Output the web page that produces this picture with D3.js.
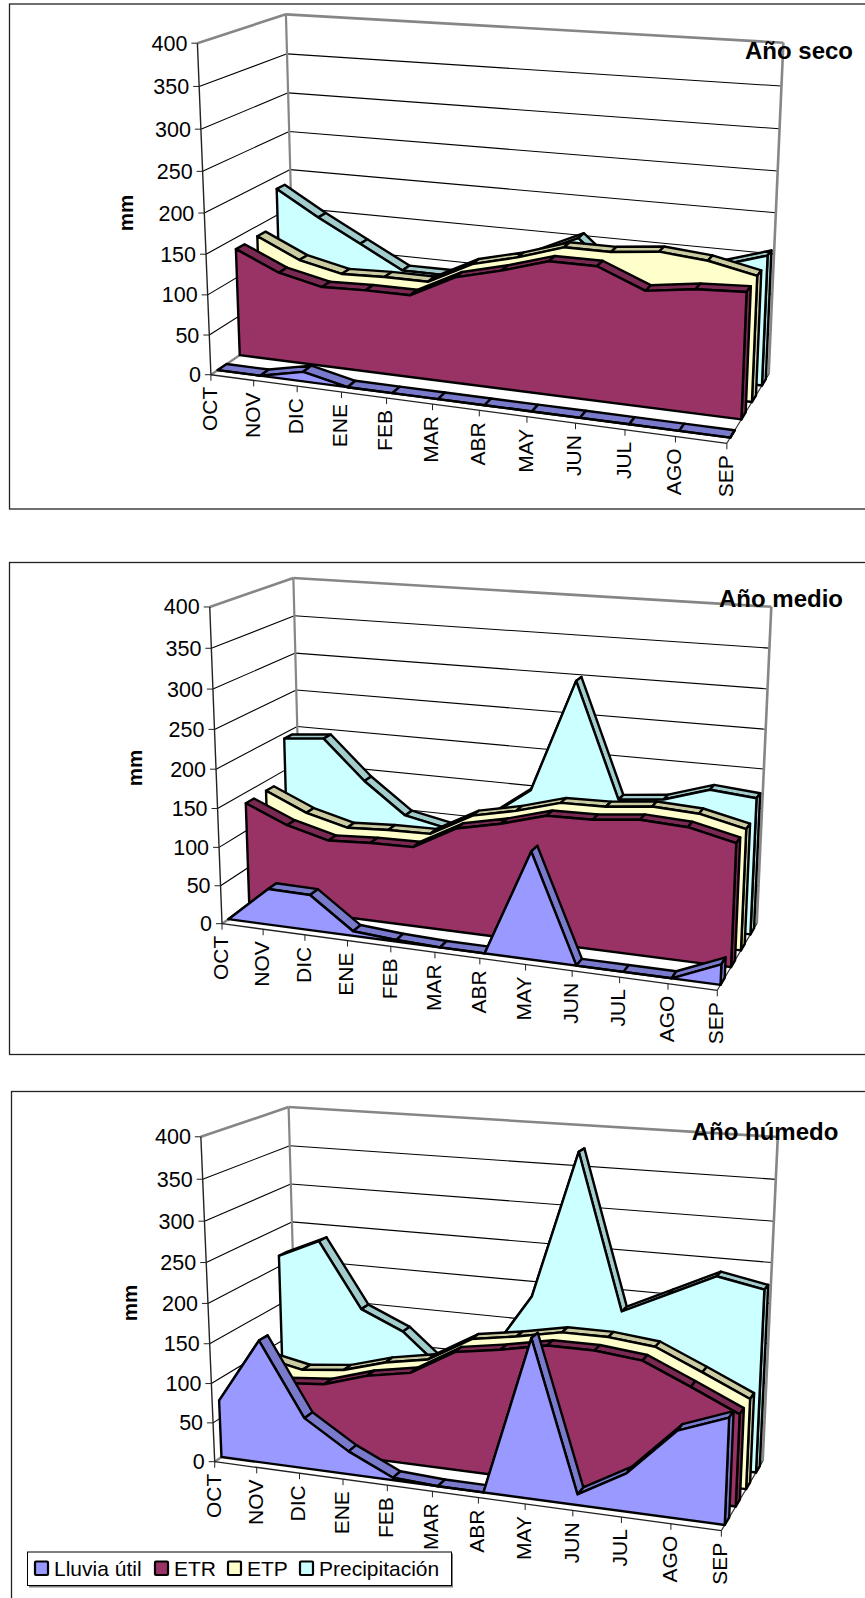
<!DOCTYPE html>
<html>
<head>
<meta charset="utf-8">
<script src="https://cdnjs.cloudflare.com/ajax/libs/d3/7.8.5/d3.min.js"></script>
<style>
  html, body { margin: 0; padding: 0; background: #fff; }
  text { font-family: "Liberation Sans", Arial, sans-serif; fill: #000; }
</style>
</head>
<body>
<div id="chart"></div>
<script>
var months = ["OCT", "NOV", "DIC", "ENE", "FEB", "MAR", "ABR", "MAY", "JUN", "JUL", "AGO", "SEP"];
var yTicks = [0, 50, 100, 150, 200, 250, 300, 350, 400];
var seriesNames = ["Lluvia útil", "ETR", "ETP", "Precipitación"];

var secoLluvia = [0, 0, 12, 0, 0, 0, 0, 0, 0, 0, 0, 0];
var secoEtr = [136, 112, 100, 102, 102, 130, 144, 161, 161, 138, 146, 149];
var secoEtp = [137, 112, 100, 102, 102, 130, 144, 162, 162, 168, 163, 151];
var secoPrec = [184, 152, 123, 94, 94, 85, 132, 158, 110, 120, 141, 159];

var medioLluvia = [0, 47, 46, 6, 2, 0, 0, 134, 0, 0, 0, 25];
var medioEtr = [136, 113, 99, 102, 103, 133, 145, 161, 162, 168, 165, 152];
var medioEtp = [137, 113, 99, 102, 103, 133, 145, 161, 162, 168, 165, 152];
var medioPrec = [193, 198, 146, 105, 94, 115, 156, 301, 155, 161, 179, 174];

var humedoLluvia = [73, 155, 64, 29, 3, 0, 0, 193, 13, 46, 104, 126];
var humedoEtr = [94, 84, 89, 106, 116, 148, 157, 168, 168, 162, 137, 111];
var humedoEtp = [95, 84, 90, 106, 116, 148, 157, 168, 168, 162, 137, 111];
var humedoPrec = [214, 238, 154, 130, 83, 110, 192, 375, 184, 211, 238, 227];

var fills = ["#9999ff", "#993366", "#ffffcc", "#ccffff"];
var tops = ["#7a7acc", "#7a2952", "#cccca3", "#a3cccc"];

var width = 865, height = 1598;

// corners of the 3D box of each panel, measured on the page
var panels = [
  { title: "Año seco", titleX: 799, titleY: 59, mmX: 126, mmY: 213,
    frame: [9.5, 4, 900, 505],
    FL0: [210.7, 375], FL400: [197.5, 43.3], BL0: [294.6, 317.7], BL400: [285.8, 14.3],
    BR0: [768.5, 375], BR400: [783.4, 42.7], FR0: [727.1, 442.7], tick8: [575.4, 423.3],
    values: [secoLluvia, secoEtr, secoEtp, secoPrec] },
  { title: "Año medio", titleX: 781, titleY: 607, mmX: 135, mmY: 768,
    frame: [9.5, 562.5, 900, 492],
    FL0: [222.3, 924], FL400: [209.6, 606.7], BL0: [300.7, 868], BL400: [293.5, 578.3],
    BR0: [756.9, 924], BR400: [771.3, 606.7], FR0: [717.2, 989.3], tick8: [572.1, 971.7],
    values: [medioLluvia, medioEtr, medioEtp, medioPrec] },
  { title: "Año húmedo", titleX: 765, titleY: 1140, mmX: 130, mmY: 1303,
    frame: [11.5, 1091.5, 900, 600],
    FL0: [214.1, 1462.7], FL400: [201.4, 1136.7], BL0: [297.9, 1403.3], BL400: [288, 1107.3],
    BR0: [762.4, 1462.7], BR400: [777.9, 1136.7], FR0: [721.6, 1529], tick8: [572.7, 1511],
    values: [humedoLluvia, humedoEtr, humedoEtp, humedoPrec] }
];

var x = d3.scalePoint().domain(months).range([0, 1]);
var y = d3.scaleLinear().domain([0, 400]).range([0, 1]);
var depth = d3.scaleBand().domain(seriesNames).range([0, 1]).paddingInner(0.6).paddingOuter(0.3);

// solves A m = b
function solve(A, b) {
  var n = b.length;
  for (var i = 0; i < n; i++) {
    var p = i;
    for (var r = i + 1; r < n; r++) if (Math.abs(A[r][i]) > Math.abs(A[p][i])) p = r;
    var t = A[i]; A[i] = A[p]; A[p] = t;
    t = b[i]; b[i] = b[p]; b[p] = t;
    for (r = i + 1; r < n; r++) {
      var f = A[r][i] / A[i][i];
      for (var c = i; c < n; c++) A[r][c] -= f * A[i][c];
      b[r] -= f * b[i];
    }
  }
  var m = new Array(n);
  for (i = n - 1; i >= 0; i--) {
    var s = b[i];
    for (c = i + 1; c < n; c++) s -= A[i][c] * m[c];
    m[i] = s / A[i][i];
  }
  return m;
}

// least squares fit of a perspective projection from the measured corners
function fitProjection(p) {
  var pts = [
    [0, 0, 0, p.FL0], [0, 1, 0, p.FL400], [0, 0, 1, p.BL0], [0, 1, 1, p.BL400],
    [1, 0, 1, p.BR0], [1, 1, 1, p.BR400], [1, 0, 0, p.FR0], [8 / 11, 0, 0, p.tick8]
  ];
  var rows = [], rhs = [];
  pts.forEach(function(q) {
    var X = q[3][0] / 1000, Y = q[3][1] / 1000;
    rows.push([1, q[0], q[1], q[2], 0, 0, 0, 0, -X * q[0], -X * q[1], -X * q[2]]); rhs.push(X);
    rows.push([0, 0, 0, 0, 1, q[0], q[1], q[2], -Y * q[0], -Y * q[1], -Y * q[2]]); rhs.push(Y);
  });
  var ATA = d3.range(11).map(function(i) {
    return d3.range(11).map(function(j) { return d3.sum(rows, function(r) { return r[i] * r[j]; }); });
  });
  var ATb = d3.range(11).map(function(i) { return d3.sum(rows, function(r, k) { return r[i] * rhs[k]; }); });
  var m = solve(ATA, ATb);
  return function(u, v, w) {
    var d = 1 + m[8] * u + m[9] * v + m[10] * w;
    return [1000 * (m[0] + m[1] * u + m[2] * v + m[3] * w) / d,
            1000 * (m[4] + m[5] * u + m[6] * v + m[7] * w) / d];
  };
}

var svg = d3.select("#chart").append("svg")
  .attr("width", width).attr("height", height)
  .style("display", "block");

var poly = d3.line().curve(d3.curveLinearClosed);

function drawPanel(p) {
  var proj = fitProjection(p);
  var g = svg.append("g");

  g.append("rect")
    .attr("x", p.frame[0]).attr("y", p.frame[1])
    .attr("width", p.frame[2]).attr("height", p.frame[3])
    .attr("fill", "#fff").attr("stroke", "#222").attr("stroke-width", 1.3);

  function seg(a, b, color, sw) {
    g.append("line")
      .attr("x1", a[0]).attr("y1", a[1]).attr("x2", b[0]).attr("y2", b[1])
      .attr("stroke", color).attr("stroke-width", sw);
  }

  // gridlines on left and back walls
  yTicks.slice(1, -1).forEach(function(t) {
    seg(proj(0, y(t), 0), proj(0, y(t), 1), "#000", 1.1);
    seg(proj(0, y(t), 1), proj(1, y(t), 1), "#000", 1.1);
  });

  // box edges
  seg(proj(0, 1, 0), proj(0, 1, 1), "#868686", 2.6);
  seg(proj(0, 1, 1), proj(1, 1, 1), "#868686", 2.6);
  seg(proj(0, 0, 1), proj(0, 1, 1), "#868686", 2.2);
  seg(proj(1, 0, 1), proj(1, 1, 1), "#868686", 2.6);
  seg(proj(0, 0, 0), proj(0, 0, 1), "#868686", 2.4);
  seg(proj(0, 0, 1), proj(1, 0, 1), "#868686", 1.6);
  seg(proj(1, 0, 0), proj(1, 0, 1), "#333", 1.2);

  // series back to front
  d3.range(seriesNames.length - 1, -1, -1).forEach(function(s) {
    var name = seriesNames[s], vals = p.values[s];
    var w0 = depth(name), w1 = w0 + depth.bandwidth();
    var last = months.length - 1;

    months.slice(0, -1).forEach(function(m, i) {
      var u0 = x(m), u1 = x(months[i + 1]);
      g.append("path")
        .attr("d", poly([
          proj(u0, y(vals[i]), w0), proj(u1, y(vals[i + 1]), w0),
          proj(u1, y(vals[i + 1]), w1), proj(u0, y(vals[i]), w1)
        ]))
        .attr("fill", tops[s]).attr("stroke", "#000").attr("stroke-width", 2.4)
        .attr("stroke-linejoin", "round");
    });

    g.append("path")
      .attr("d", poly([
        proj(1, y(vals[last]), w0), proj(1, y(vals[last]), w1),
        proj(1, 0, w1), proj(1, 0, w0)
      ]))
      .attr("fill", tops[s]).attr("stroke", "#000").attr("stroke-width", 2.4)
      .attr("stroke-linejoin", "round");

    var front = months.map(function(m, i) { return proj(x(m), y(vals[i]), w0); })
      .concat([proj(1, 0, w0), proj(0, 0, w0)]);
    g.append("path")
      .attr("d", poly(front))
      .attr("fill", fills[s]).attr("stroke", "#000").attr("stroke-width", 2.4)
      .attr("stroke-linejoin", "round");
  });

  // value axis
  seg(proj(0, 0, 0), proj(0, 1, 0), "#222", 1.4);
  yTicks.forEach(function(t) {
    var a = proj(0, y(t), 0);
    seg([a[0] - 6, a[1]], a, "#222", 1);
    g.append("text")
      .attr("x", a[0] - 10).attr("y", a[1])
      .attr("dy", "0.35em").attr("text-anchor", "end")
      .style("font-size", "21.5px")
      .text(t);
  });

  // month axis
  seg(proj(0, 0, 0), proj(1, 0, 0), "#222", 1.3);
  months.forEach(function(m) {
    var a = proj(x(m), 0, 0);
    seg(a, [a[0], a[1] + 6], "#222", 1);
    g.append("text")
      .attr("transform", "translate(" + (a[0] - 1.5) + "," + (a[1] + 12) + ") rotate(-90)")
      .attr("dy", "0.35em").attr("text-anchor", "end")
      .style("font-size", "21px")
      .text(m);
  });

  g.append("text")
    .attr("transform", "translate(" + p.mmX + "," + p.mmY + ") rotate(-90)")
    .attr("dy", "0.35em").attr("text-anchor", "middle")
    .style("font-size", "20.5px").style("font-weight", "bold")
    .text("mm");

  g.append("text")
    .attr("x", p.titleX).attr("y", p.titleY)
    .attr("text-anchor", "middle")
    .style("font-size", "24px").style("font-weight", "bold")
    .text(p.title);
}

panels.forEach(drawPanel);

// legend
var legend = svg.append("g");
legend.append("rect")
  .attr("x", 29).attr("y", 1553.5).attr("width", 424).attr("height", 34)
  .attr("fill", "#808080");
legend.append("rect")
  .attr("x", 27.5).attr("y", 1552).attr("width", 424).attr("height", 33.5)
  .attr("fill", "#fff").attr("stroke", "#000").attr("stroke-width", 1);
var legendX = [35, 155, 228, 300];
seriesNames.forEach(function(n, i) {
  legend.append("rect")
    .attr("x", legendX[i]).attr("y", 1561.5).attr("width", 13).attr("height", 13.5)
    .attr("rx", 1)
    .attr("fill", fills[i]).attr("stroke", "#000").attr("stroke-width", 2.2);
  legend.append("text")
    .attr("x", legendX[i] + 19).attr("y", 1575.7)
    .style("font-size", "21px")
    .text(n);
});
</script>
</body>
</html>
